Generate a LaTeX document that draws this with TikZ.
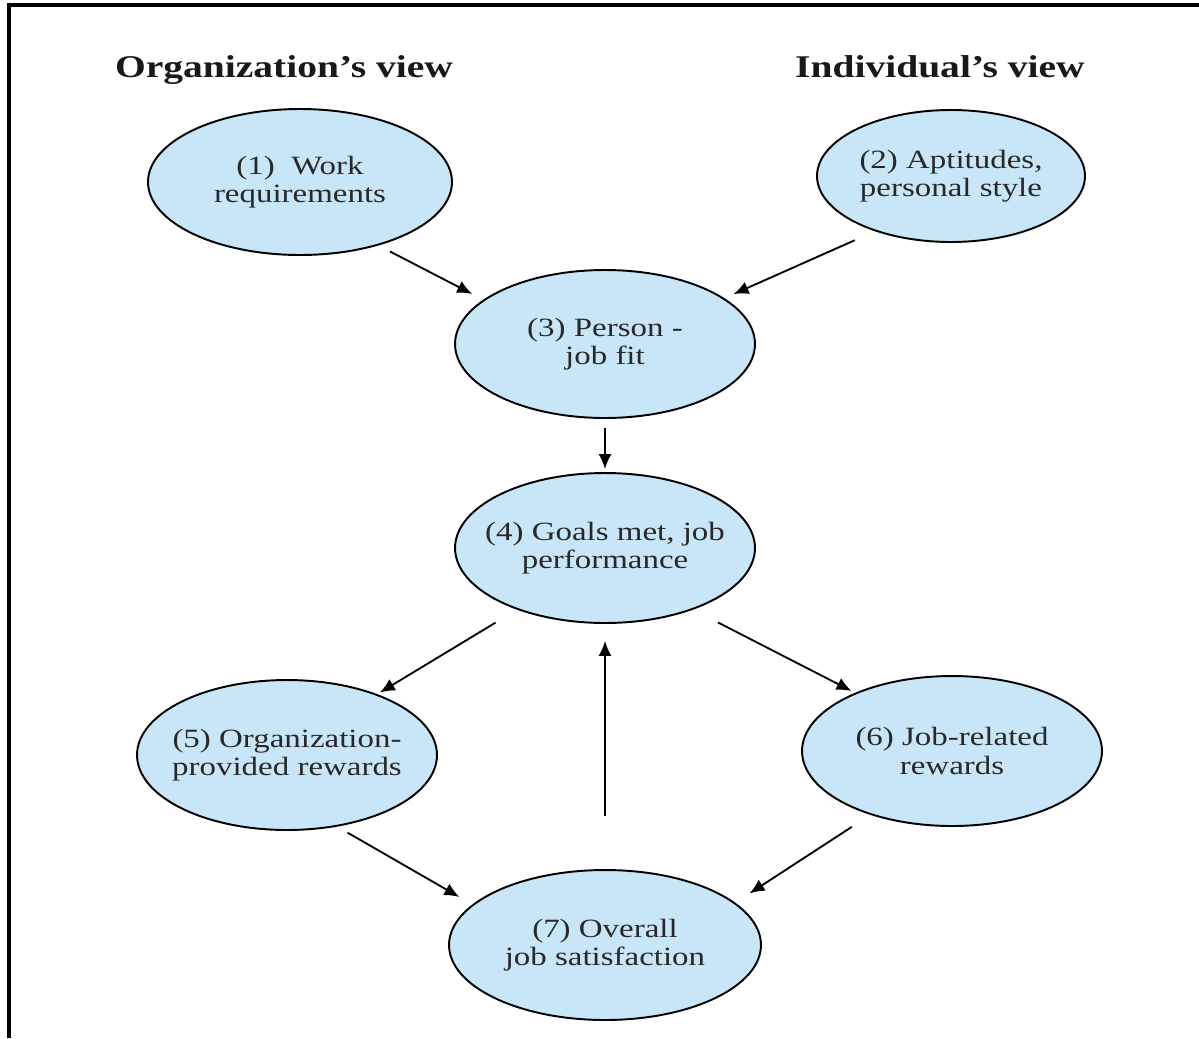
\documentclass[tikz,border=0pt]{standalone}
\usepackage{fontspec}
\setmainfont{Liberation Serif}[FakeStretch=1.25]
\usetikzlibrary{shapes.geometric,arrows.meta,positioning}
\definecolor{ovalblue}{RGB}{200,230,248}
\definecolor{inktext}{RGB}{40,40,40}

\begin{document}
\begin{tikzpicture}[x=0.02cm,y=-0.02cm,
    oval/.style={ellipse,draw=black,line width=1.1pt,fill=ovalblue,
      inner sep=0pt,minimum width=6cm,minimum height=3cm},
    txt/.style={align=center,text=inktext,font=\fontsize{15}{16}\selectfont},
    head/.style={anchor=base,text=black!90,font=\fontsize{18}{20}\selectfont\bfseries},
    arr/.style={-{Latex[length=0.3cm,width=0.26cm]},line width=1.05pt}]
 \useasboundingbox (0,0) rectangle (1199,1038);
 % frame, top and left only
 \draw[line width=2.3pt] (9,1038) -- (9,5) -- (1199,5);

 \node[head] (orgview) at (284,77) {Organization’s view};
 \node[head] (indview) at (940,77) {Individual’s view};

 \node[oval,minimum width=6.08cm,minimum height=2.92cm] (w1) at (300,182) {};
 \node[txt] (t1) at (w1) {(1)\ \ Work\\requirements};
 \node[oval,minimum width=5.36cm,minimum height=2.64cm] (w2) at (951,176) {};
 \node[txt] (t2) at (w2) {(2) Aptitudes,\\personal style};
 \node[oval,minimum height=2.96cm] (w3) at (605,344) {};
 \node[txt] (t3) at (w3) {(3) Person -\\job fit};
 \node[oval] (w4) at (605,548) {};
 \node[txt] (t4) at (w4) {(4) Goals met, job\\performance};
 \node[oval] (w5) at (287,755) {};
 \node[txt] (t5) at (w5) {(5) Organization-\\provided rewards};
 \node[oval] (w6) at (952,751) {};
 \node[txt] (t6) at (w6) {(6) Job-related\\rewards};
 \node[oval,minimum width=6.24cm] (w7) at (605,945) {};
 \node[txt] (t7) at (w7) {(7) Overall\\job satisfaction};

 \draw[arr,shorten <=0.26cm,shorten >=0.25cm] (w1.-39) -- (w3.160);
 \draw[arr,shorten <=0.44cm,shorten >=0.2cm] (w2.-144) -- (w3.21);
 \draw[arr,shorten <=0.18cm,shorten >=0.06cm] (w3.south) -- (w4.north);
 \draw[arr,shorten <=0.5cm,shorten >=0.06cm] (w4.-145) -- (w5.34);
 \draw[arr,shorten <=0.56cm,shorten >=0.08cm] (w4.-35) -- (w6.149);
 \draw[arr,shorten <=1.06cm,shorten >=0.34cm] (w7.north) -- (w4.south);
 \draw[arr,shorten <=0.24cm,shorten >=0.3cm] (w5.-55) -- (w7.163);
 \draw[arr,shorten <=0.44cm,shorten >=0.34cm] (w6.-142) -- (w7.18);
\end{tikzpicture}
\end{document}
